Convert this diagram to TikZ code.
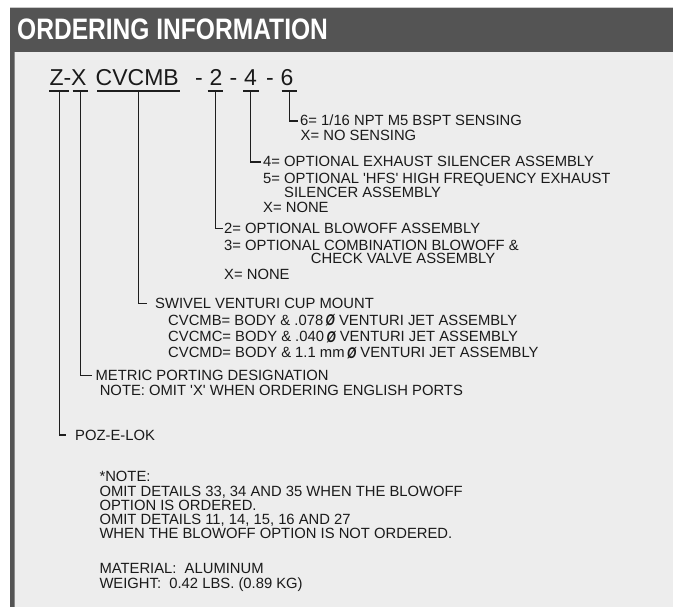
\documentclass[tikz,border=0pt]{standalone}
\usepackage{fontspec}
\usepackage{graphicx}
\newfontfamily\lsans{Liberation Sans}
\newcommand\diasym{\,\raisebox{-0.6pt}{\scalebox{0.8}[1.05]{\bfseries\itshape Ø}}}
\definecolor{darkband}{HTML}{545454}
\definecolor{lightbg}{HTML}{EDEDED}
\definecolor{txt}{HTML}{1A1A1A}
\definecolor{ln}{HTML}{1E1E1E}
\definecolor{topline}{HTML}{C8C8C8}
\definecolor{midline}{HTML}{8A8A8A}
\begin{document}
\begin{tikzpicture}[x=1pt,y=-1pt,
  lbl/.style={anchor=base west, inner sep=0pt, text height=10pt, text depth=0pt,
              font=\lsans\fontsize{14.8}{15}\selectfont, text=txt},
  code/.style={anchor=base west, inner sep=0pt, font=\lsans\fontsize{23}{25}\selectfont, text=txt},
  conn/.style={draw=ln, line width=1.1pt},
  uline/.style={draw=ln, line width=1.2pt}]
\useasboundingbox (0,0) rectangle (673,607);
\fill[white] (0,0) rectangle (673,607);
\fill[lightbg] (15,52) rectangle (673,607);
\fill[darkband] (10,8) rectangle (673,52);
\fill[darkband] (10,52) rectangle (14.5,607);
\draw[topline, line width=0.8pt] (10,7.4) -- (673,7.4);
\draw[midline, line width=0.8pt] (14.8,52) -- (14.8,607);

\node[anchor=base west, inner sep=0pt, text=white,
      font=\lsans\bfseries\fontsize{29.6}{30}\selectfont] (title) at (17,39.8)
      {\scalebox{0.83}[1]{ORDERING INFORMATION}};

% code line
\node[code] (tZX) at (49.3,86) {Z-X};
\node[code] (tCV) at (95.5,86) {CVCMB};
\node[code] (d2) at (195,86) {-};
\node[code] (t2) at (209.5,86) {2};
\node[code] (d3) at (229.5,86) {-};
\node[code] (t4) at (244,86) {4};
\node[code] (d4) at (266,86) {-};
\node[code] (t6) at (280.5,86) {6};

\coordinate (uZ) at (59.3,91);
\coordinate (uX) at (80.2,91);
\coordinate (uCV) at (138.3,91);
\coordinate (u2) at (215.3,91);
\coordinate (u4) at (250.7,91);
\coordinate (u6) at (289.3,91);

\draw[uline] ([xshift=-10.3pt]uZ) -- ([xshift=9.7pt]uZ);
\draw[uline] ([xshift=-7.5pt]uX) -- ([xshift=7.5pt]uX);
\draw[uline] ([xshift=-41.3pt]uCV) -- ([xshift=41.7pt]uCV);
\draw[uline] ([xshift=-7.6pt]u2) -- ([xshift=7.7pt]u2);
\draw[uline] ([xshift=-7.7pt]u4) -- ([xshift=8.3pt]u4);
\draw[uline] ([xshift=-7.6pt]u6) -- ([xshift=7.4pt]u6);

% labels: option 6
\node[lbl] (l6a) at (300,126) {6= 1/16 NPT M5 BSPT SENSING};
\node[lbl] (l6b) at (300.5,140.5) {X= NO SENSING};
% option 4
\node[lbl] (l4a) at (263,167) {4= OPTIONAL EXHAUST SILENCER ASSEMBLY};
\node[lbl] (l4b) at (263,183.5) {5= OPTIONAL 'HFS' HIGH FREQUENCY EXHAUST};
\node[lbl] (l4c) at (284,197.5) {SILENCER ASSEMBLY};
\node[lbl] (l4d) at (263,212.5) {X= NONE};
% option 2
\node[lbl] (l2a) at (224,233.3) {2= OPTIONAL BLOWOFF ASSEMBLY};
\node[lbl] (l2b) at (224,250.5) {3= OPTIONAL COMBINATION BLOWOFF \&};
\node[lbl] (l2c) at (310.7,264) {CHECK VALVE ASSEMBLY};
\node[lbl] (l2d) at (224,279.3) {X= NONE};
% CVCMB
\node[lbl] (lcva) at (155,308.3) {SWIVEL VENTURI CUP MOUNT};
\node[lbl] (lcvb) at (168,325) {CVCMB= BODY \& .078\diasym\ VENTURI JET ASSEMBLY};
\node[lbl] (lcvc) at (168,341.7) {CVCMC= BODY \& .040\diasym\ VENTURI JET ASSEMBLY};
\node[lbl] (lcvd) at (168,357.7) {CVCMD= BODY \& 1.1 mm\diasym\ VENTURI JET ASSEMBLY};
% X
\node[lbl] (lxa) at (95.4,380.7) {METRIC PORTING DESIGNATION};
\node[lbl] (lxb) at (99.6,395.3) {NOTE: OMIT 'X' WHEN ORDERING ENGLISH PORTS};
% Z
\node[lbl] (lz) at (75,440) {POZ-E-LOK};

% notes
\node[lbl] (n1) at (99.3,481.7) {*NOTE:};
\node[lbl] (n2) at (99.3,496) {OMIT DETAILS 33, 34 AND 35 WHEN THE BLOWOFF};
\node[lbl] (n3) at (99.3,510.2) {OPTION IS ORDERED.};
\node[lbl] (n4) at (99.3,524.4) {OMIT DETAILS 11, 14, 15, 16 AND 27};
\node[lbl] (n5) at (99.3,538.7) {WHEN THE BLOWOFF OPTION IS NOT ORDERED.};
\node[lbl] (n6) at (99.3,573.3) {MATERIAL:\ \ ALUMINUM};
\node[lbl] (n7) at (99.3,588.3) {WEIGHT:\ \ 0.42 LBS. (0.89 KG)};

% connectors
\draw[conn] (u6) |- ([xshift=-2.5pt]l6a.west);
\draw[conn] (u4) |- ([xshift=-2pt]l4a.west);
\draw[conn] (u2) |- ([xshift=-1.5pt]l2a.west);
\draw[conn] (uCV) |- ([xshift=-8pt]lcva.west);
\draw[conn] (uX) |- ([xshift=-3.6pt]lxa.west);
\draw[conn] (uZ) |- ([xshift=-9pt]lz.west);
\end{tikzpicture}
\end{document}
